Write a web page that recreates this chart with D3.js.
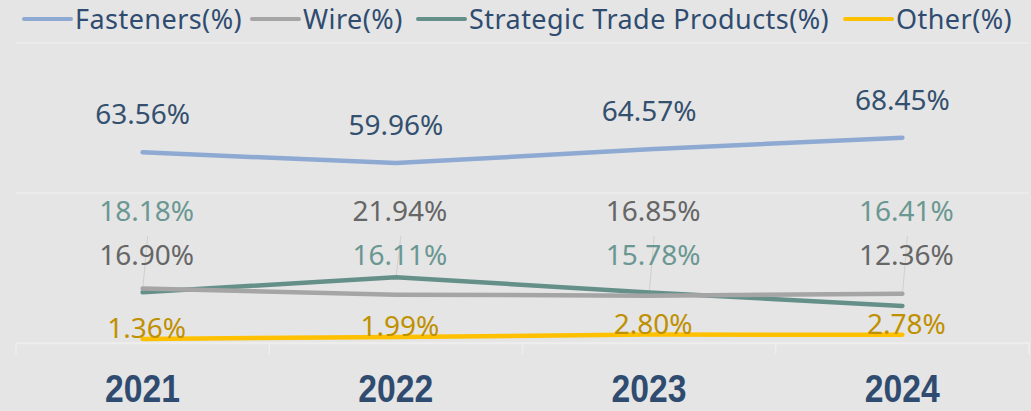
<!DOCTYPE html>
<html>
<head>
<meta charset="utf-8">
<script src="https://cdn.jsdelivr.net/npm/d3@7"></script>
<style>
  body { margin: 0; background: #e5e5e5; }
  svg { display: block; font-family: "Noto Sans", sans-serif; }
</style>
</head>
<body>
<svg id="chart"></svg>
<script>
var years = ["2021", "2022", "2023", "2024"];
var fasteners = [63.56, 59.96, 64.57, 68.45];
var wire = [16.90, 21.94, 16.85, 12.36];
var strategic = [18.18, 16.11, 15.78, 16.41];
var other = [1.36, 1.99, 2.80, 2.78];
var gridValues = [0, 50, 100];

var width = 1031;
var height = 411;

// note: in the source picture the wire and strategic lines carry each other's colour
var series = [
  { name: "Fasteners(%)", values: fasteners, color: "#8eaad3", lineColor: "#8eaad3", labelColor: "#34506f" },
  { name: "Wire(%)", values: wire, color: "#a5a5a5", lineColor: "#65908a", labelColor: "#666666" },
  { name: "Strategic Trade Products(%)", values: strategic, color: "#65908a", lineColor: "#a5a5a5", labelColor: "#6b9792" },
  { name: "Other(%)", values: other, color: "#ffc000", lineColor: "#ffc000", labelColor: "#bf9000" }
];

const svg = d3.select("#chart")
  .attr("width", width)
  .attr("height", height);

svg.append("rect")
  .attr("width", width)
  .attr("height", height)
  .attr("fill", "#e5e5e5");

// scales
const x = d3.scaleBand()
  .domain(years)
  .range([16, 1029]);

const y = d3.scaleLinear()
  .domain([0, 100])
  .range([343, 43]);

// gridlines
svg.selectAll(".grid")
  .data(gridValues)
  .enter()
  .append("line")
  .attr("x1", 16)
  .attr("x2", 1029)
  .attr("y1", d => y(d))
  .attr("y2", d => y(d))
  .attr("stroke", "#ededed")
  .attr("stroke-width", 1.5);

// x axis
const xAxis = svg.append("g")
  .attr("transform", `translate(0,${y(0)})`)
  .call(d3.axisBottom(x).tickSize(0));

xAxis.select(".domain").attr("stroke", "#eeeeee").attr("stroke-width", 1.5);
xAxis.selectAll("text")
  .attr("y", 59)
  .attr("dy", 0)
  .attr("font-family", "Liberation Sans, sans-serif")
  .attr("font-weight", "bold")
  .attr("font-size", "38px")
  .attr("textLength", 75)
  .attr("lengthAdjust", "spacingAndGlyphs")
  .attr("fill", "#2f4c70");

// category separator ticks
svg.selectAll(".sep")
  .data(years.concat(["end"]))
  .enter()
  .append("line")
  .attr("x1", (d, i) => 16 + i * x.step())
  .attr("x2", (d, i) => 16 + i * x.step())
  .attr("y1", y(0))
  .attr("y2", y(0) + 11)
  .attr("stroke", "#eeeeee")
  .attr("stroke-width", 1.5);

const px = (d, i) => x(years[i]) + x.bandwidth() / 2;

// leader lines for the upper of wire / strategic labels
years.forEach((yr, i) => {
  svg.append("line")
    .attr("x1", px(null, i) + 5)
    .attr("y1", 236)
    .attr("x2", px(null, i))
    .attr("y2", y(Math.max(wire[i], strategic[i])) + 2)
    .attr("stroke", "#cfcfcf")
    .attr("stroke-width", 1);
});

// lines
const line = d3.line()
  .x((d, i) => px(d, i))
  .y(d => y(d));

svg.selectAll(".series")
  .data(series)
  .enter()
  .append("path")
  .attr("d", d => line(d.values))
  .attr("fill", "none")
  .attr("stroke", d => d.lineColor)
  .attr("stroke-width", 4.5)
  .attr("stroke-linecap", "round")
  .attr("stroke-linejoin", "round");

// data labels
function labelY(s, i) {
  var v = s.values[i];
  if (s.values === fasteners) return y(v) - 28;
  if (s.values === other) return y(v) - 1;
  var top = wire[i] > strategic[i] ? wire : strategic;
  return s.values === top ? 221 : 265;
}

series.forEach(s => {
  svg.selectAll(null)
    .data(s.values)
    .enter()
    .append("text")
    .attr("x", (d, i) => px(d, i) + (s.values === fasteners ? 0 : 4))
    .attr("y", (d, i) => labelY(s, i))
    .attr("text-anchor", "middle")
    .attr("font-size", "28px")
    .attr("fill", s.labelColor)
    .text(d => d.toFixed(2) + "%");
});

// legend
var legendX = [24, 252, 418, 845];
const legend = svg.selectAll(".legend")
  .data(series)
  .enter()
  .append("g")
  .attr("transform", (d, i) => `translate(${legendX[i]},19)`);

legend.append("line")
  .attr("x1", 0)
  .attr("x2", 47)
  .attr("stroke", d => d.color)
  .attr("stroke-width", 4)
  .attr("stroke-linecap", "round");

legend.append("text")
  .attr("x", 51)
  .attr("y", 10)
  .attr("font-size", "27px")
  .attr("letter-spacing", "0.45px")
  .attr("fill", "#2f4c70")
  .text(d => d.name);
</script>
</body>
</html>
